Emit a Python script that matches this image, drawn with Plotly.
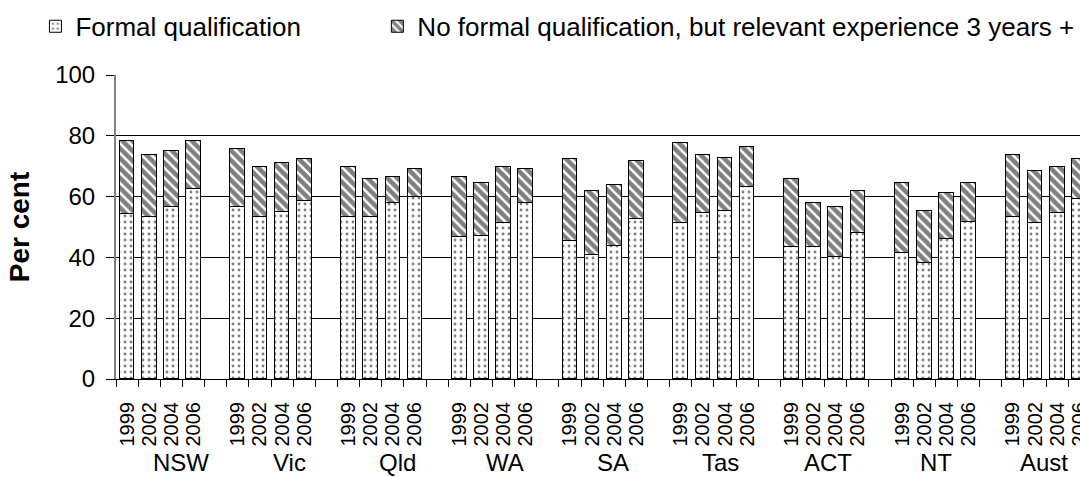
import plotly.graph_objects as go

states = ["NSW", "Vic", "Qld", "WA", "SA", "Tas", "ACT", "NT", "Aust"]
years = ["1999", "2002", "2004", "2006"]

# Per cent with a formal qualification, by state then year
formal = [
    54.3, 53.2, 56.5, 62.4,   # NSW
    56.5, 53.2, 55.1, 58.4,   # Vic
    53.2, 53.2, 57.8, 59.8,   # Qld
    46.7, 47.2, 51.3, 57.8,   # WA
    45.3, 40.7, 43.9, 52.6,   # SA
    51.3, 54.5, 55.2, 63.1,   # Tas
    43.4, 43.4, 40.1, 48.0,   # ACT
    41.4, 38.1, 46.0, 51.8,   # NT
    53.2, 51.3, 54.5, 59.1,   # Aust
]
# Per cent with either (total height of stacked bar)
total = [
    78.3, 73.7, 75.0, 78.3,
    75.6, 69.7, 71.1, 72.3,
    69.7, 65.8, 66.4, 69.1,
    66.4, 64.4, 69.7, 69.1,
    72.3, 61.8, 63.7, 71.6,
    77.5, 73.6, 72.8, 76.2,
    65.8, 57.8, 56.5, 61.8,
    64.4, 55.2, 61.1, 64.4,
    73.6, 68.3, 69.7, 72.3,
]
experience = [round(t - f, 1) for t, f in zip(total, formal)]

# x positions: 4 bars per state followed by a blank slot
xpos = [g * 5 + i for g in range(len(states)) for i in range(len(years))]
xyears = [y for _ in states for y in years]
boundaries = [k - 0.5 for k in range(0, 46)]

FONT = "Liberation Sans, Arial, sans-serif"

fig = go.Figure()
fig.add_trace(go.Bar(
    x=xpos, y=formal, width=0.66, name="Formal qualification",
    legend="legend", showlegend=True,
    marker=dict(color="white", line=dict(color="black", width=1),
                pattern=dict(shape=".", fgcolor="black", bgcolor="white",
                             size=6, solidity=0.18)),
))
fig.add_trace(go.Bar(
    x=xpos, y=experience, width=0.66,
    name="No formal qualification, but relevant experience 3 years +",
    legend="legend2", showlegend=True,
    marker=dict(color="white", line=dict(color="black", width=1),
                pattern=dict(shape="\\", fgcolor="black", bgcolor="white",
                             size=7, solidity=0.65)),
))

for g, s in enumerate(states):
    fig.add_annotation(
        x=2.45 + 4.87 * g, y=-0.275, xref="x", yref="paper",
        text=s, showarrow=False, yanchor="middle",
        font=dict(family=FONT, size=24, color="black"),
    )

legend_common = dict(
    orientation="h", xref="container", yref="container",
    y=0.994, xanchor="left", yanchor="top",
    font=dict(family=FONT, size=26, color="black"),
    itemclick=False, bgcolor="rgba(0,0,0,0)",
)

fig.update_layout(
    width=1080, height=477,
    margin=dict(l=116, r=0, t=75, b=98, autoexpand=False),
    barmode="stack",
    showlegend=True,
    plot_bgcolor="white", paper_bgcolor="white",
    font=dict(family=FONT, color="black"),
    bargap=0,
    legend=dict(x=0.0328, **legend_common),
    legend2=dict(x=0.3494, **legend_common),
    xaxis=dict(
        range=[-0.5, 43.03], tickmode="array", automargin=False,
        tickvals=xpos, ticktext=xyears, tickangle=-90,
        ticks="", ticklabelstandoff=14, ticklabeloverflow="allow",
        tickfont=dict(family=FONT, size=20, color="black"),
        showgrid=False, zeroline=False,
        showline=True, linecolor="black", linewidth=1,
        minor=dict(tickmode="array", tickvals=boundaries, ticks="outside",
                   ticklen=7, tickcolor="black", tickwidth=1, showgrid=False),
    ),
    yaxis=dict(
        range=[0, 100], tickmode="linear", tick0=0, dtick=20, automargin=False,
        ticks="outside", ticklen=8, tickcolor="black", ticklabelstandoff=6,
        tickfont=dict(family=FONT, size=24, color="black"),
        showgrid=True, gridcolor="black", gridwidth=1,
        zeroline=False, showline=True, linecolor="#808080", linewidth=2,
        title=dict(text="<b>Per cent</b>", standoff=17,
                   font=dict(family=FONT, size=28, color="black")),
    ),
)

fig.write_html(
    "out.html",
    config={"displayModeBar": False},
    post_script="document.body.style.margin='0';document.body.style.overflow='hidden';",
)
